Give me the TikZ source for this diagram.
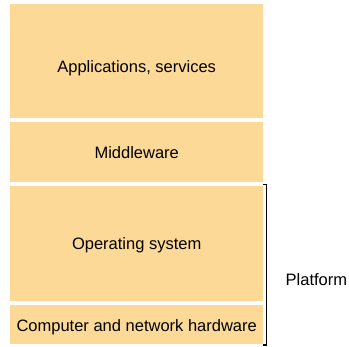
\documentclass[tikz,border=0pt]{standalone}
\usepackage{fontspec}
\setmainfont{Liberation Sans}
\usepackage{tikz}
\definecolor{layerfill}{HTML}{FDD998}

\begin{document}
\begin{tikzpicture}[x=1pt,y=-1pt,
		layer/.style={fill=layerfill,draw=none,anchor=north west,minimum width=253pt,inner sep=0pt,font=\fontsize{16.5}{19}\selectfont}]
	\useasboundingbox (0,0) rectangle (349,347);
	% stacked layers
	\node[layer,minimum height=114pt,text height=22pt,text depth=0pt] (apps) at (10,4) {Applications, services};
	\node[layer,minimum height=60pt] (mid) at (10,122) {Middleware};
	\node[layer,minimum height=115pt,text height=11pt,text depth=0pt] (os) at (10,186) {Operating system};
	\node[layer,minimum height=39pt,text height=14pt,text depth=0pt] (hw) at (10,305) {Computer and network hardware};
	% bracket for the platform
	\coordinate (brtop) at (263,184.5);
	\coordinate (brbot) at (263,345);
	\draw[line width=1.6pt] (brtop) -- ++(3.5,0) |- (brbot);
	\node[anchor=west,inner sep=0pt,font=\fontsize{16.5}{19}\selectfont] (plat) at (285.5,280) {Platform};
\end{tikzpicture}
\end{document}
